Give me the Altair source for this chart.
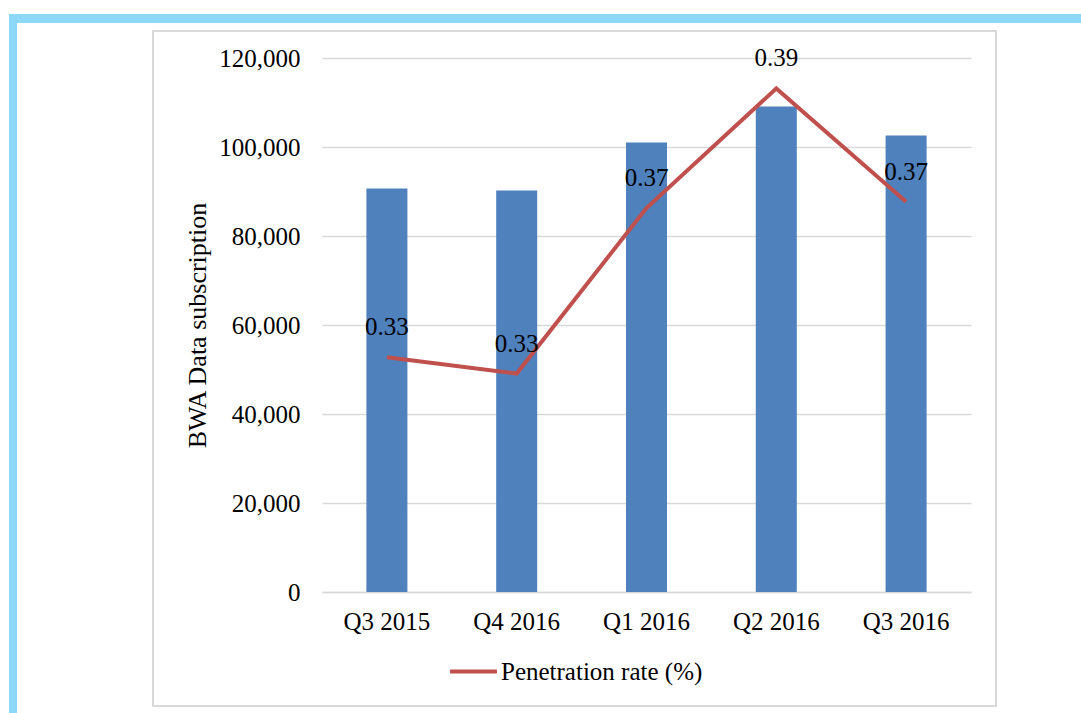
import altair as alt
import pandas as pd

categories = ["Q3 2015", "Q4 2016", "Q1 2016", "Q2 2016", "Q3 2016"]
subscriptions = [90700, 90200, 101000, 109100, 102600]
penetration = [0.3344, 0.3310, 0.3655, 0.3904, 0.3668]
y_ticks = [0, 20000, 40000, 60000, 80000, 100000, 120000]
series_name = "Penetration rate (%)"

df = pd.DataFrame({
    "quarter": categories,
    "subs": subscriptions,
    "rate": penetration,
    "series": [series_name] * len(categories),
})

FONT = "Liberation Serif"
GRID = "#d9d9d9"
W, H = 649, 534
PL, PT = 322, 58

xscale = alt.Scale(type="band", paddingInner=0.684, paddingOuter=0.342)
xaxis = alt.Axis(title=None, labelAngle=0, labelFont=FONT, labelFontSize=25,
                 labelColor="black", ticks=False, domainColor=GRID,
                 domainWidth=1.5, labelPadding=17, grid=False)
xenc = alt.X("quarter:N", sort=categories, scale=xscale, axis=xaxis)
xenc2 = alt.X("quarter:N", sort=categories, scale=xscale, bandPosition=0.5, axis=xaxis)

one = alt.Data(values=[{"a": 1}])
blue = "#8ed8f7"

top_band = alt.Chart(one).mark_rect(color=blue).encode(
    x=alt.value(9 - PL), x2=alt.value(1081 - PL),
    y=alt.value(14 - PT), y2=alt.value(23 - PT))
left_band = alt.Chart(one).mark_rect(color=blue).encode(
    x=alt.value(9 - PL), x2=alt.value(17 - PL),
    y=alt.value(14 - PT), y2=alt.value(713 - PT))
frame = alt.Chart(one).mark_rect(fill=None, stroke=GRID, strokeWidth=2).encode(
    x=alt.value(153 - PL), x2=alt.value(996 - PL),
    y=alt.value(31 - PT), y2=alt.value(706 - PT))

bars = alt.Chart(df).mark_bar(color="#4f81bd").encode(
    x=xenc,
    y=alt.Y("subs:Q", scale=alt.Scale(domain=[0, 120000], nice=False),
            axis=alt.Axis(values=y_ticks, format=",.0f", title="BWA Data subscription",
                          titleFont=FONT, titleFontSize=26, titleFontWeight="normal",
                          titleColor="black", titlePadding=8,
                          labelFont=FONT, labelFontSize=25, labelColor="black",
                          labelPadding=22, ticks=False, domain=False,
                          gridColor=GRID, gridWidth=1.5)),
)

rate_scale = alt.Scale(domain=[0.2855, 0.39675], nice=False, zero=False)

line = alt.Chart(df).mark_line(strokeWidth=4).encode(
    x=xenc2,
    y=alt.Y("rate:Q", scale=rate_scale, axis=None),
    color=alt.Color("series:N",
                    scale=alt.Scale(domain=[series_name], range=["#c0504d"]),
                    legend=alt.Legend(title=None, orient="none", legendX=126, legendY=588,
                                      symbolType="stroke", symbolSize=2200,
                                      symbolStrokeWidth=4, labelFont=FONT,
                                      labelFontSize=25, labelColor="black",
                                      labelOffset=2, labelLimit=0)),
)

labels = alt.Chart(df).mark_text(font=FONT, fontSize=25, color="black", dy=-30,
                                 baseline="middle").encode(
    x=xenc2,
    y=alt.Y("rate:Q", scale=rate_scale, axis=None),
    text=alt.Text("rate:Q", format=".2f"),
)

chart = alt.layer(top_band, left_band, frame, bars, line, labels).resolve_scale(
    y="independent"
).properties(
    width=W, height=H,
    autosize=alt.AutoSizeParams(type="none"),
    padding={"left": PL, "top": PT, "right": 1081 - PL - W, "bottom": 713 - PT - H},
    background="white",
).configure_view(stroke=None)

chart.save("out.html", embed_options={"renderer": "svg", "actions": False})
